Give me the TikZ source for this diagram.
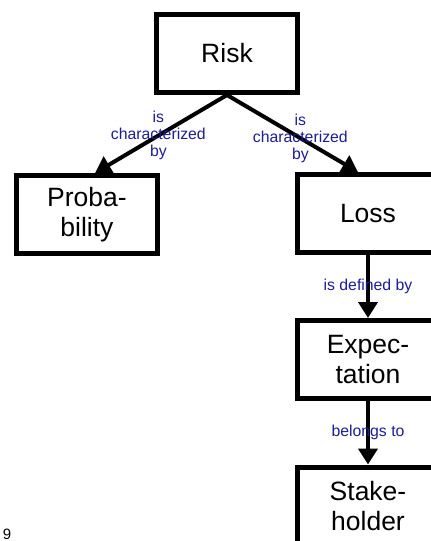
\documentclass[tikz,border=0pt]{standalone}
\usepackage{fontspec}
\setmainfont{Liberation Sans}
\usetikzlibrary{arrows.meta}
\definecolor{relblue}{RGB}{28,28,150}
\begin{document}
\begin{tikzpicture}[x=1pt,y=-1pt,
		concept/.style={draw,line width=5pt,minimum width=141pt,minimum height=78pt,align=center,font=\fontsize{26.5}{30}\selectfont},
		relation/.style={text=relblue,align=center,font=\fontsize{15.8}{17}\selectfont},
		link/.style={line width=4pt,-{Triangle[length=16pt,width=19pt]}}]
		\clip (0,0) rectangle (431,541);

		\node[concept] (risk) at (227,53.5) {Risk};
		\node[concept] (prob) at (87,214.5) {Proba-\\bility};
		\node[concept] (loss) at (368,213.5) {Loss};
		\node[concept] (expect) at (368,359.5) {Expec-\\tation};
		\node[concept] (stake) at (368,506) {Stake-\\holder};

		\draw[link] (risk.south) -- ([xshift=8pt]prob.north) node[relation,pos=0.52] (relprob) {is\\characterized\\by};
		\draw[link] (risk.south) -- ([xshift=-10pt]loss.north) node[relation,pos=0.56] (relloss) {is\\characterized\\by};
		\draw[link] (loss.south) -- (expect.north) node[relation,midway] (relexpect) {is defined by};
		\draw[link] (expect.south) -- (stake.north) node[relation,midway] (relstake) {belongs to};

		\node[font=\fontsize{15}{17}\selectfont] (pagenum) at (7,534) {9};
	\end{tikzpicture}
\end{document}
